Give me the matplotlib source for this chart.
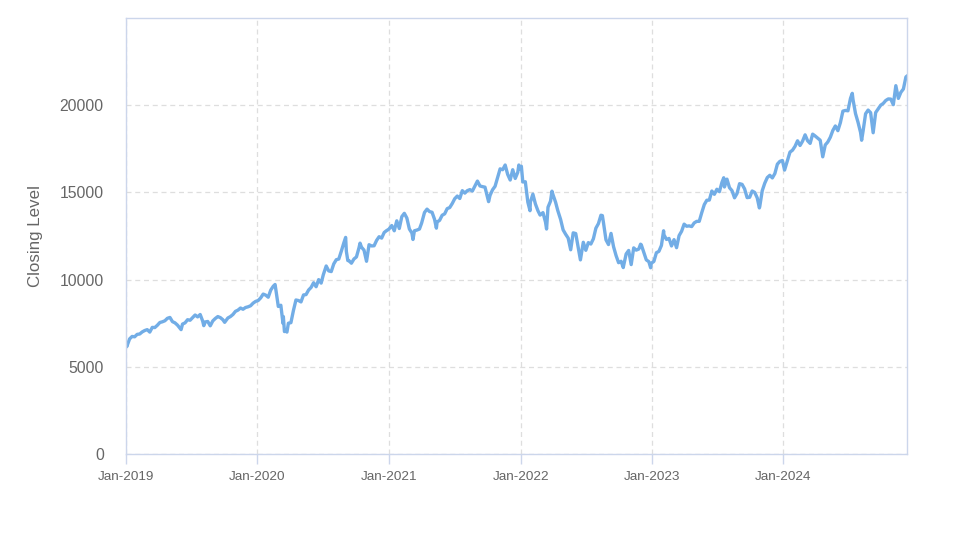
import matplotlib
matplotlib.use("Agg")
import matplotlib.pyplot as plt
import matplotlib.dates as mdates
import pandas as pd

plt.rcParams['font.family'] = ['Liberation Sans', 'DejaVu Sans']

# weekly-ish closing levels (month-day, level)
close_2019 = [("01-02", 6360), ("01-03", 6150), ("01-11", 6600), ("01-18", 6740), ("01-25", 6720),
              ("02-01", 6860), ("02-08", 6880), ("02-15", 7000), ("02-22", 7080), ("03-01", 7130),
              ("03-08", 6990), ("03-15", 7260), ("03-22", 7250), ("03-29", 7380), ("04-05", 7540),
              ("04-12", 7580), ("04-19", 7640), ("04-26", 7780), ("05-03", 7830), ("05-10", 7590),
              ("05-17", 7520), ("05-24", 7390), ("06-03", 7130), ("06-07", 7450), ("06-14", 7520),
              ("06-21", 7700), ("06-28", 7670), ("07-05", 7820), ("07-12", 7970), ("07-19", 7860),
              ("07-26", 8000), ("08-02", 7620), ("08-05", 7360), ("08-09", 7570), ("08-16", 7600),
              ("08-23", 7350), ("08-30", 7630), ("09-06", 7770), ("09-13", 7880), ("09-20", 7820),
              ("09-27", 7700), ("10-02", 7550), ("10-11", 7800), ("10-18", 7880), ("10-25", 8000),
              ("11-01", 8180), ("11-08", 8250), ("11-15", 8370), ("11-22", 8300), ("11-29", 8400),
              ("12-06", 8440), ("12-13", 8500), ("12-20", 8650), ("12-27", 8750)]

close_2020 = [("01-03", 8800), ("01-10", 8950), ("01-17", 9170), ("01-24", 9110), ("01-31", 8990),
              ("02-07", 9400), ("02-14", 9620), ("02-19", 9720), ("02-21", 9450), ("02-28", 8460),
              ("03-06", 8530), ("03-12", 7490), ("03-13", 7880), ("03-16", 7020), ("03-20", 7050),
              ("03-23", 6990), ("03-27", 7500), ("04-03", 7530), ("04-10", 8230), ("04-17", 8830),
              ("04-24", 8800), ("05-01", 8720), ("05-08", 9120), ("05-15", 9140), ("05-22", 9400),
              ("05-29", 9550), ("06-05", 9820), ("06-12", 9590), ("06-19", 10000), ("06-26", 9800),
              ("07-02", 10280), ("07-10", 10780), ("07-17", 10500), ("07-24", 10460), ("07-31", 10900),
              ("08-07", 11140), ("08-14", 11180), ("08-21", 11630), ("08-28", 12110), ("09-02", 12420),
              ("09-04", 11620), ("09-08", 11090), ("09-11", 11090), ("09-18", 10940), ("09-25", 11180),
              ("10-02", 11300), ("10-09", 11820), ("10-12", 12090), ("10-16", 11860), ("10-23", 11690),
              ("10-30", 11050), ("11-06", 12000), ("11-13", 11930), ("11-20", 11940), ("11-27", 12250),
              ("12-04", 12460), ("12-11", 12380), ("12-18", 12700), ("12-24", 12800), ("12-31", 12890)]

close_2021 = [("01-08", 13100), ("01-15", 12800), ("01-22", 13370), ("01-29", 12930), ("02-05", 13610),
              ("02-12", 13800), ("02-19", 13530), ("02-26", 12900), ("03-05", 12670), ("03-08", 12300),
              ("03-12", 12800), ("03-19", 12840), ("03-26", 12900), ("04-01", 13240), ("04-09", 13850),
              ("04-16", 14040), ("04-23", 13900), ("04-30", 13860), ("05-07", 13450), ("05-12", 12950),
              ("05-14", 13300), ("05-21", 13400), ("05-28", 13690), ("06-04", 13770), ("06-11", 14070),
              ("06-18", 14130), ("06-25", 14360), ("07-02", 14640), ("07-09", 14790), ("07-16", 14650),
              ("07-23", 15100), ("07-30", 14960), ("08-06", 15100), ("08-13", 15160), ("08-20", 15080),
              ("08-27", 15370), ("09-03", 15650), ("09-10", 15370), ("09-17", 15330), ("09-24", 15300),
              ("10-01", 14700), ("10-04", 14470), ("10-08", 14830), ("10-15", 15150), ("10-22", 15350),
              ("10-29", 15850), ("11-05", 16350), ("11-12", 16300), ("11-19", 16570), ("11-26", 16030),
              ("12-03", 15710), ("12-10", 16300), ("12-17", 15800), ("12-24", 16150), ("12-27", 16570),
              ("12-31", 16320)]

close_2022 = [("01-03", 16500), ("01-07", 15600), ("01-14", 15610), ("01-21", 14440), ("01-27", 13950),
              ("01-28", 14440), ("02-04", 14900), ("02-11", 14340), ("02-18", 13950), ("02-24", 13700),
              ("03-04", 13840), ("03-11", 13300), ("03-14", 12900), ("03-18", 14150), ("03-25", 14500),
              ("03-29", 15070), ("04-01", 14860), ("04-08", 14440), ("04-14", 13970), ("04-22", 13450),
              ("04-29", 12850), ("05-06", 12600), ("05-13", 12380), ("05-20", 11710), ("05-27", 12680),
              ("06-03", 12640), ("06-10", 11830), ("06-16", 11130), ("06-24", 12140), ("07-01", 11680),
              ("07-08", 12120), ("07-15", 12040), ("07-22", 12340), ("07-29", 12950), ("08-05", 13210),
              ("08-12", 13690), ("08-16", 13670), ("08-19", 13270), ("08-26", 12280), ("09-02", 12010),
              ("09-09", 12650), ("09-16", 11890), ("09-23", 11380), ("09-30", 10970), ("10-07", 11050),
              ("10-13", 10690), ("10-14", 10800), ("10-21", 11470), ("10-28", 11670), ("11-04", 10860),
              ("11-11", 11820), ("11-18", 11690), ("11-25", 11750), ("11-30", 12030), ("12-02", 12000),
              ("12-09", 11570), ("12-16", 11130), ("12-23", 11030), ("12-28", 10680), ("12-30", 10940)]

close_2023 = [("01-06", 11040), ("01-13", 11540), ("01-20", 11620), ("01-27", 11960), ("02-02", 12800),
              ("02-03", 12570), ("02-10", 12300), ("02-17", 12360), ("02-24", 11930), ("03-03", 12290),
              ("03-10", 11830), ("03-17", 12520), ("03-24", 12770), ("03-31", 13180), ("04-07", 13060),
              ("04-14", 13080), ("04-21", 13040), ("04-28", 13250), ("05-05", 13340), ("05-12", 13340),
              ("05-19", 13840), ("05-26", 14300), ("06-02", 14550), ("06-09", 14560), ("06-16", 15080),
              ("06-23", 14890), ("06-30", 15180), ("07-07", 15040), ("07-14", 15570), ("07-19", 15840),
              ("07-21", 15310), ("07-28", 15760), ("08-04", 15270), ("08-11", 15100), ("08-18", 14690),
              ("08-25", 14940), ("09-01", 15500), ("09-08", 15460), ("09-15", 15200), ("09-22", 14700),
              ("09-29", 14720), ("10-06", 15080), ("10-13", 15000), ("10-20", 14690), ("10-26", 14110),
              ("10-27", 14180), ("11-03", 15100), ("11-10", 15530), ("11-17", 15850), ("11-24", 15980),
              ("12-01", 15830), ("12-08", 16080), ("12-15", 16620), ("12-22", 16780), ("12-29", 16830)]

close_2024 = [("01-04", 16280), ("01-12", 16830), ("01-19", 17310), ("01-26", 17420), ("02-02", 17640),
              ("02-09", 17960), ("02-16", 17690), ("02-23", 17940), ("03-01", 18300), ("03-08", 17960),
              ("03-15", 17810), ("03-22", 18340), ("03-28", 18250), ("04-05", 18110), ("04-12", 17990),
              ("04-19", 17040), ("04-26", 17720), ("05-03", 17890), ("05-10", 18160), ("05-17", 18550),
              ("05-24", 18810), ("05-31", 18540), ("06-07", 19000), ("06-14", 19660), ("06-21", 19700),
              ("06-28", 19680), ("07-05", 20390), ("07-10", 20680), ("07-12", 20330), ("07-19", 19520),
              ("07-26", 19020), ("08-02", 18440), ("08-05", 17990), ("08-09", 18510), ("08-16", 19510),
              ("08-23", 19720), ("08-30", 19570), ("09-06", 18420), ("09-13", 19580), ("09-20", 19790),
              ("09-27", 20000), ("10-04", 20100), ("10-11", 20270), ("10-18", 20360), ("10-25", 20350),
              ("11-01", 20030), ("11-08", 21120), ("11-15", 20390), ("11-22", 20740), ("11-29", 20930),
              ("12-06", 21620), ("12-09", 21670)]

years = [2019, 2020, 2021, 2022, 2023, 2024]
series = [close_2019, close_2020, close_2021, close_2022, close_2023, close_2024]

rows = []
for yr, s in zip(years, series):
    for md, v in s:
        rows.append((pd.Timestamp(f"{yr}-{md}"), v))
df = pd.DataFrame(rows, columns=["date", "close"])

y_ticks = [0, 5000, 10000, 15000, 20000]
x_ticks = [pd.Timestamp(f"{y}-01-01") for y in years]

axis_col = "#ccd6eb"
grid_col = "#dedede"

fig = plt.figure(figsize=(9.73, 5.47), dpi=100)
ax = fig.add_axes([126 / 973, 1 - 454 / 547, (907 - 126) / 973, (454 - 18) / 547])

ax.plot(df["date"], df["close"], color="#72ade6", lw=2.4, solid_joinstyle="round")

ax.set_xlim(df["date"].iloc[0], df["date"].iloc[-1])
ax.set_ylim(0, 25000)
ax.set_yticks(y_ticks)
ax.set_yticklabels([str(t) for t in y_ticks])
ax.set_xticks(x_ticks)
ax.xaxis.set_major_formatter(mdates.DateFormatter("%b-%Y"))

ax.grid(True, color=grid_col, lw=0.9, linestyle=(0, (4, 3)))
ax.set_axisbelow(True)

for sp in ax.spines.values():
    sp.set_color(axis_col)
    sp.set_linewidth(1.0)

ax.tick_params(axis="y", length=0, pad=16, labelsize=11.3, labelcolor="#666666")
ax.tick_params(axis="x", length=7, width=1, color=axis_col, pad=5, labelsize=9.7, labelcolor="#666666")

ax.set_ylabel("Closing Level", fontsize=12.2, color="#666666", labelpad=12)

fig.savefig("out.png", dpi=100)
